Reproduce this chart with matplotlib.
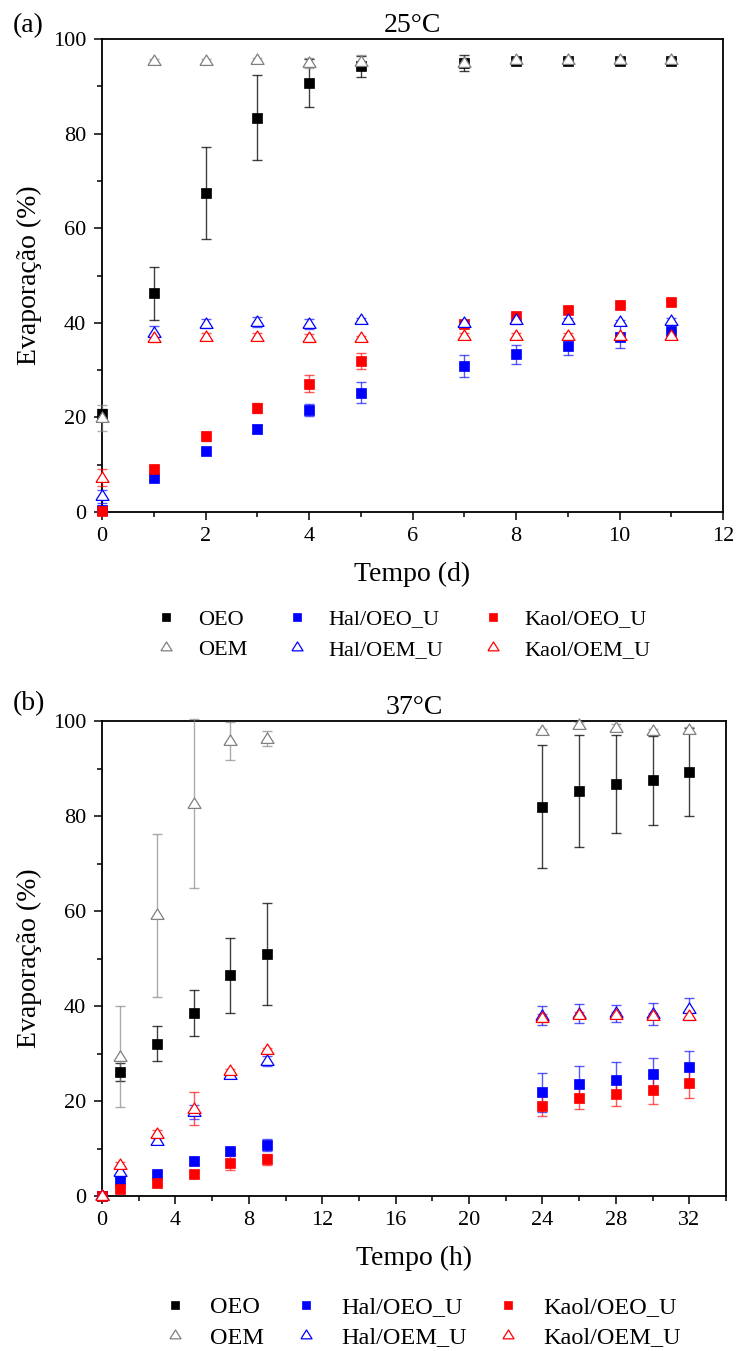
import numpy as np
import matplotlib
matplotlib.use("Agg")
import matplotlib.pyplot as plt
from matplotlib.ticker import MultipleLocator

plt.rcParams["font.family"] = ["Liberation Serif", "DejaVu Serif"]

# ---- (a) 25 °C, tempo em dias ----
t_d = [0, 1, 2, 3, 4, 5, 7, 8, 9, 10, 11]
oeo_25 = [20.8, 46.2, 67.4, 83.4, 90.7, 94.2, 94.9, 95.3, 95.3, 95.3, 95.3]
oeo_25_err = [1.0, 5.7, 9.7, 8.9, 5.0, 2.3, 1.7, 0.6, 0.5, 0.5, 0.5]
oem_25 = [19.9, 95.3, 95.3, 95.5, 94.9, 95.1, 95.0, 95.5, 95.5, 95.5, 95.5]
oem_25_err = [2.8, 0.4, 0.4, 0.5, 1.0, 1.5, 1.0, 0.5, 0.5, 0.5, 0.5]
hal_oeo_25 = [0.5, 7.2, 12.8, 17.6, 21.6, 25.2, 30.9, 33.3, 35.2, 37.1, 38.2]
hal_oeo_25_err = [0.5, 0.5, 0.6, 0.8, 1.2, 2.2, 2.3, 2.0, 2.0, 2.5, 1.5]
kaol_oeo_25 = [0.3, 9.1, 16.0, 22.0, 27.1, 31.9, 39.8, 41.4, 42.8, 43.7, 44.3]
kaol_oeo_25_err = [0.3, 0.5, 1.0, 1.0, 1.8, 1.7, 0.5, 0.5, 0.5, 0.5, 0.5]
hal_oem_25 = [3.3, 37.8, 39.8, 40.2, 39.7, 40.5, 40.0, 40.5, 40.5, 40.1, 40.3]
hal_oem_25_err = [1.3, 1.5, 1.0, 1.0, 1.0, 0.5, 0.5, 0.8, 0.5, 0.5, 0.8]
kaol_oem_25 = [7.2, 36.8, 37.1, 37.1, 36.8, 36.8, 37.3, 37.3, 37.3, 37.3, 37.3]
kaol_oem_25_err = [1.8, 0.8, 0.8, 0.8, 0.8, 0.5, 0.5, 0.5, 0.5, 0.5, 0.5]

# ---- (b) 37 °C, tempo em horas ----
t_h = [0, 1, 3, 5, 7, 9, 24, 26, 28, 30, 32]
oeo_37 = [0, 26.1, 32.1, 38.5, 46.5, 51.0, 82.0, 85.3, 86.7, 87.5, 89.2]
oeo_37_err = [0, 1.9, 3.7, 4.8, 7.9, 10.7, 13.0, 11.8, 10.3, 9.3, 9.3]
oem_37 = [0, 29.3, 59.1, 82.6, 95.8, 96.3, 97.9, 99.1, 98.6, 97.9, 98.2]
oem_37_err = [0, 10.6, 17.2, 17.8, 4.0, 1.5, 0.5, 0.6, 0.8, 0.5, 0.5]
hal_oeo_37 = [0, 3.3, 4.6, 7.4, 9.4, 10.7, 21.8, 23.5, 24.5, 25.6, 27.2]
hal_oeo_37_err = [0, 0.5, 0.5, 0.6, 0.6, 1.2, 4.1, 3.8, 3.7, 3.5, 3.3]
kaol_oeo_37 = [0, 1.4, 2.8, 4.6, 6.9, 7.7, 18.9, 20.6, 21.5, 22.4, 23.8]
kaol_oeo_37_err = [0, 0.5, 0.5, 0.5, 1.5, 1.2, 2.1, 2.3, 2.6, 3.0, 3.1]
hal_oem_37 = [0, 5.1, 11.6, 17.7, 25.4, 28.4, 38.0, 38.4, 38.5, 38.4, 39.4]
hal_oem_37_err = [0, 1.0, 0.6, 1.5, 0.6, 1.0, 2.0, 2.0, 1.8, 2.3, 2.3]
kaol_oem_37 = [0, 6.5, 13.1, 18.4, 26.3, 30.7, 37.5, 38.2, 38.2, 38.0, 38.0]
kaol_oem_37_err = [0, 0.7, 0.8, 3.4, 0.5, 0.5, 0.8, 0.5, 0.5, 0.5, 0.5]

labels = ["OEO", "OEM", "Hal/OEO_U", "Hal/OEM_U", "Kaol/OEO_U", "Kaol/OEM_U"]
colors = ["black", "gray", "blue", "blue", "red", "red"]
filled = [True, False, True, False, True, False]

# flatter triangle than matplotlib's "^"
tri = [(-1, -0.6), (1, -0.6), (0, 1.0), (-1, -0.6)]


def draw(ax, t, series):
    handles = []
    for (y, e), lab, c, f in zip(series, labels, colors, filled):
        ec = matplotlib.colors.to_rgba(c, 0.75 if c == "black" else 0.65)
        eb = ax.errorbar(t, y, yerr=e, fmt="none", ecolor=ec, elinewidth=1.0,
                         capsize=3.3, capthick=1.0, zorder=2)
        for a in eb.lines[1] + eb.lines[2]:
            a.set_clip_on(False)
        if f:
            ln = ax.plot(t, y, ls="none", marker="s", ms=7.2, mfc=c, mec=c,
                         mew=0.5, zorder=3, clip_on=False)
        else:
            ln = ax.plot(t, y, ls="none", marker=tri, ms=9.4, mfc="white", mec=c,
                         mew=0.9, zorder=4, clip_on=False)
        handles.append(ln[0])
    return handles


def style(ax, xmax, xmaj, xmin):
    ax.set_xlim(0, xmax)
    ax.set_ylim(0, 100)
    ax.xaxis.set_major_locator(MultipleLocator(xmaj))
    ax.xaxis.set_minor_locator(MultipleLocator(xmin))
    ax.yaxis.set_major_locator(MultipleLocator(20))
    ax.yaxis.set_minor_locator(MultipleLocator(10))
    ax.tick_params(which="both", direction="out", top=False, right=False, width=1.1)
    ax.tick_params(which="major", length=6, labelsize=16)
    ax.tick_params(axis="x", which="major", pad=4.5)
    ax.tick_params(axis="y", which="major", pad=5.5)
    ax.tick_params(which="minor", length=3.5)
    for s in ax.spines.values():
        s.set_linewidth(1.3)
        s.set_zorder(1)
    ax.set_ylabel("Evaporação (%)", fontsize=20, labelpad=7.5)


fig = plt.figure(figsize=(7.37, 13.51), dpi=100)
W, H = 737, 1351

ax1 = fig.add_axes([102 / W, 1 - 512 / H, 621 / W, 473 / H])
ser25 = [(oeo_25, oeo_25_err), (oem_25, oem_25_err), (hal_oeo_25, hal_oeo_25_err),
         (hal_oem_25, hal_oem_25_err), (kaol_oeo_25, kaol_oeo_25_err),
         (kaol_oem_25, kaol_oem_25_err)]
hd = draw(ax1, t_d, ser25)
style(ax1, 12, 2, 1)
ax1.set_xlabel("Tempo (d)", fontsize=20, labelpad=12)
ax1.set_title("25°C", fontsize=20, pad=5)
fig.text(13 / W, 1 - 32 / H, "(a)", fontsize=20, va="baseline")
fig.legend(hd, labels, ncol=3, loc="upper left", bbox_to_anchor=(155 / W, 1 - 609 / H),
           frameon=False, fontsize=16, borderpad=0, borderaxespad=0,
           handlelength=1.0, handletextpad=0.95, columnspacing=1.7,
           labelspacing=0.45, markerscale=0.85)

ax2 = fig.add_axes([102 / W, 1 - 1196 / H, 624 / W, 475 / H])
ser37 = [(oeo_37, oeo_37_err), (oem_37, oem_37_err), (hal_oeo_37, hal_oeo_37_err),
         (hal_oem_37, hal_oem_37_err), (kaol_oeo_37, kaol_oeo_37_err),
         (kaol_oem_37, kaol_oem_37_err)]
hh = draw(ax2, t_h, ser37)
style(ax2, 34, 4, 2)
ax2.set_xlabel("Tempo (h)", fontsize=20, labelpad=12)
ax2.set_title("37°C", fontsize=20, pad=5)
fig.text(13 / W, 1 - 710 / H, "(b)", fontsize=20, va="baseline")
fig.legend(hh, labels, ncol=3, loc="upper left", bbox_to_anchor=(163 / W, 1 - 1296 / H),
           frameon=False, fontsize=17.5, borderpad=0, borderaxespad=0,
           handlelength=1.0, handletextpad=0.95, columnspacing=1.2,
           labelspacing=0.35, markerscale=0.85)

fig.savefig("out.png", dpi=100)
